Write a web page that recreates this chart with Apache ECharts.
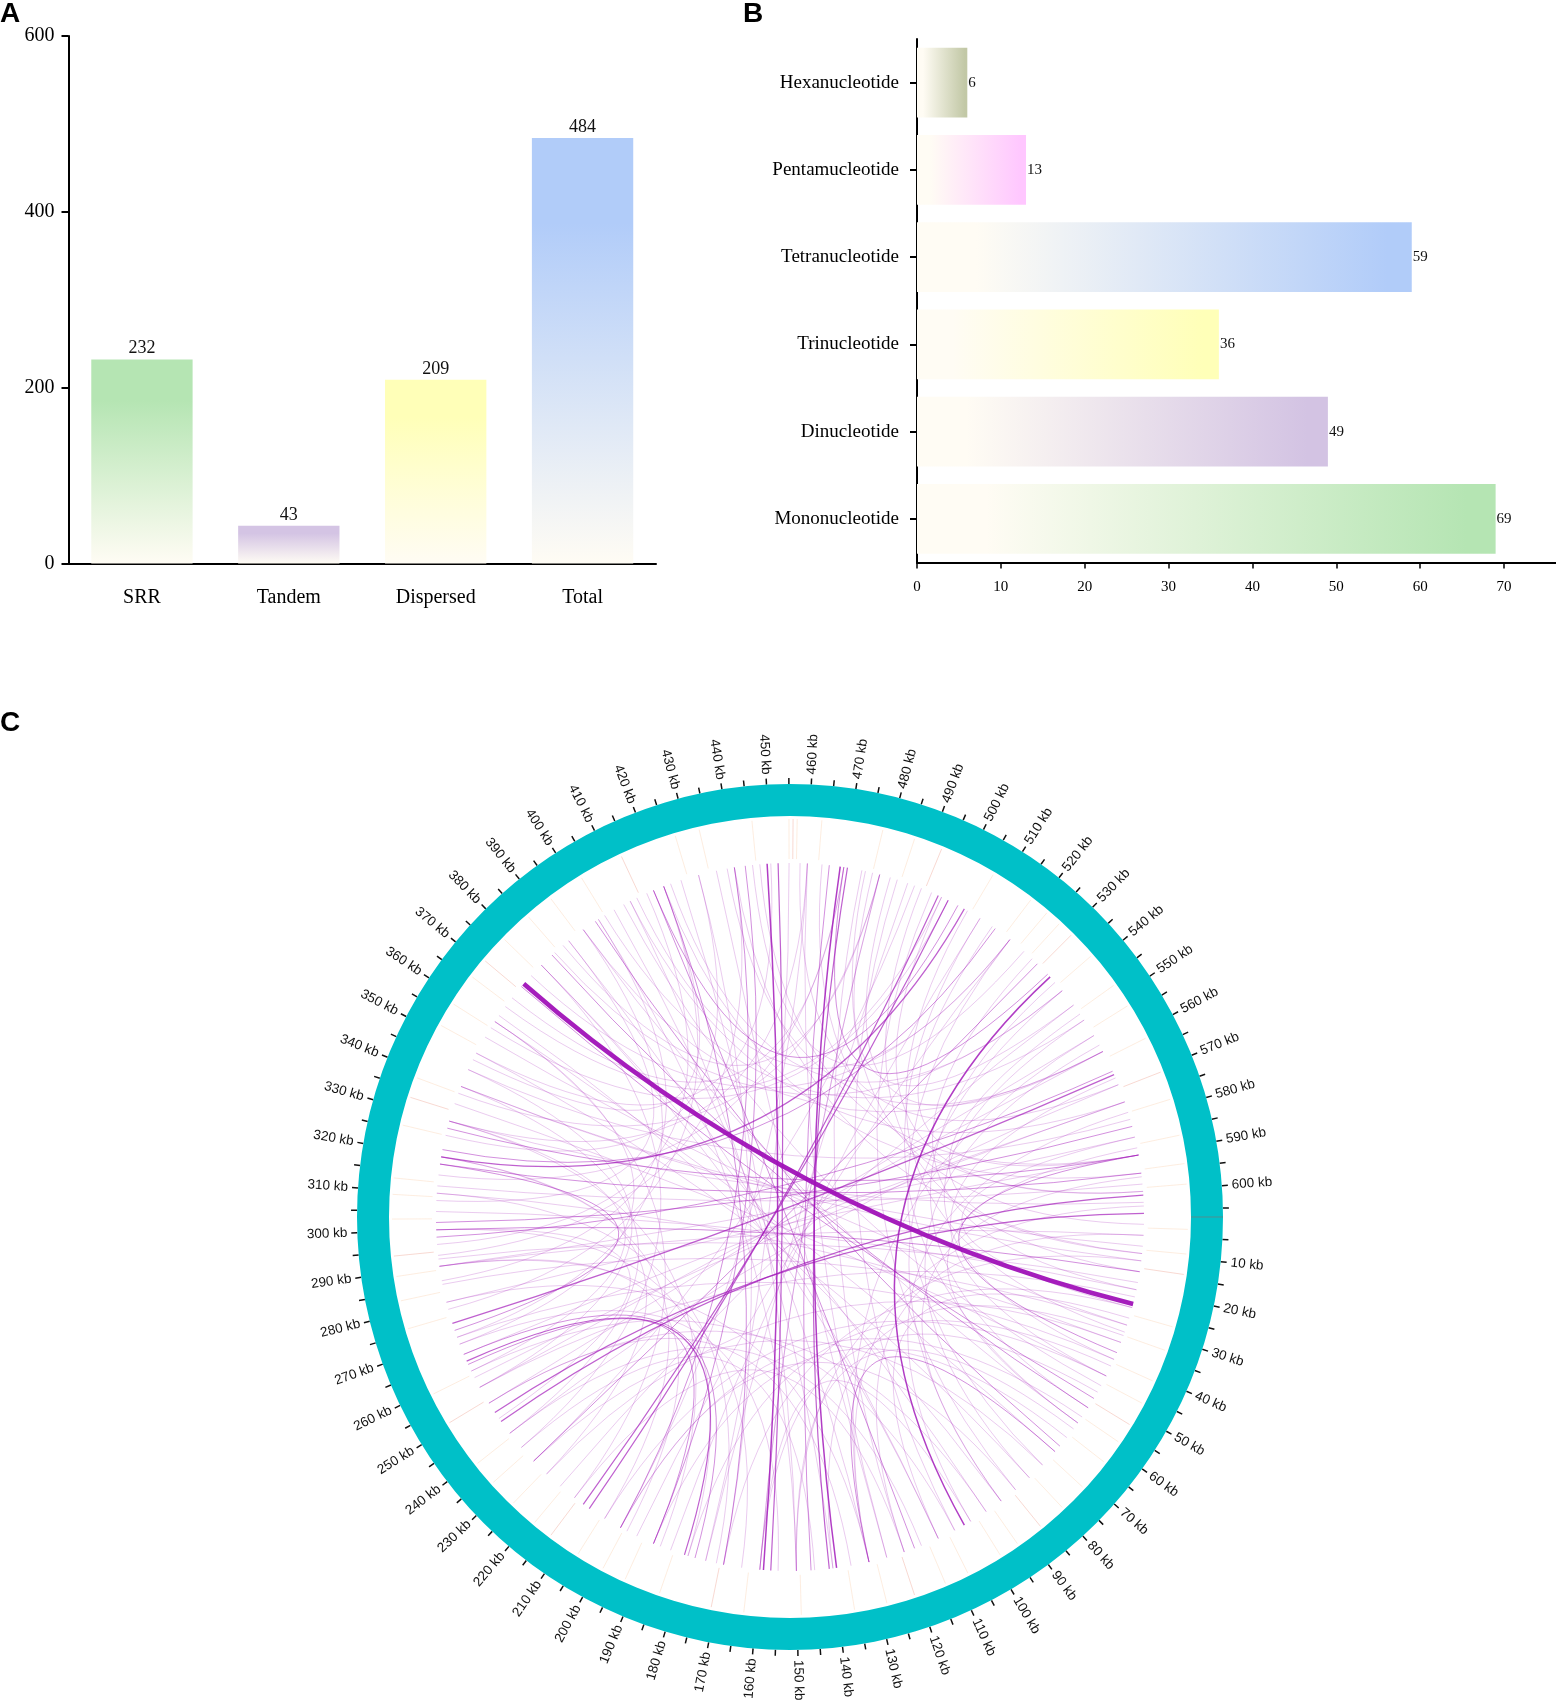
<!DOCTYPE html>
<html>
<head>
<meta charset="utf-8">
<script src="https://cdn.jsdelivr.net/npm/echarts@6/dist/echarts.min.js"></script>
<style>
html, body { margin: 0; padding: 0; background: #fff; }
#chart { width: 1556px; height: 1702px; }
</style>
</head>
<body>
<div id="chart"></div>
<script>
// ---- panel A: repeat counts ----
const repeatTypes = ['SRR', 'Tandem', 'Dispersed', 'Total'];
const repeatCounts = [232, 43, 209, 484];
const repeatColors = ['#b5e5b3', '#d4c4e4', '#ffffb8', '#b1ccf9'];

// ---- panel B: SSR motif types (bottom to top) ----
const ssrTypes = ['Mononucleotide', 'Dinucleotide', 'Trinucleotide', 'Tetranucleotide', 'Pentamucleotide', 'Hexanucleotide'];
const ssrCounts = [69, 49, 36, 59, 13, 6];
const ssrColors = ['#b5e5b3', '#d3c3e3', '#ffffb8', '#b1ccf9', '#ffc7ff', '#c2c8a6'];
const ssrTicks = [0, 10, 20, 30, 40, 50, 60, 70];

// ---- panel C: circos of the genome (kb) ----
const genomeKb = 607;
// [start kb, end kb, strength 1..10]
const links = [
    [373, 24, 10], [274, 567, 3], [535, 102, 4], [601, 244, 3], [606, 247, 3],
    [449, 159, 4], [452, 157, 3], [469, 139, 4], [471, 141, 3], [466, 146, 2],
    [210, 497, 3], [212, 500, 3], [399, 68, 2], [417, 117, 2], [320, 505, 3],
    [322, 515, 2], [263, 181, 3], [265, 178, 2], [582, 302, 2], [443, 190, 2],
    [566, 298, 2], [52, 372, 2], [55, 384, 2], [60, 395, 1], [48, 408, 1],
    [230, 530, 2], [200, 440, 2], [170, 420, 2], [140, 410, 1], [150, 400, 1],
    [590, 328, 2], [595, 318, 2], [15, 300, 2], [30, 285, 1], [40, 270, 1],
    [80, 350, 1], [90, 362, 1], [110, 380, 1], [125, 460, 1], [160, 480, 1],
    [175, 488, 1], [185, 510, 1], [195, 520, 1], [220, 545, 1], [250, 555, 1],
    [258, 575, 1], [280, 590, 1], [290, 5, 1], [305, 20, 1], [310, 35, 1],
    [335, 45, 1], [340, 12, 1], [345, 580, 1], [355, 30, 1], [360, 70, 1],
    [380, 95, 1], [390, 110, 1], [405, 130, 1], [425, 150, 1], [430, 170, 1],
    [435, 125, 1], [455, 175, 1], [460, 200, 1], [475, 120, 1], [480, 160, 1],
    [485, 105, 1], [490, 230, 1], [495, 85, 1], [503, 417, 2], [534, 470, 2],
    [545, 478, 1], [525, 445, 1], [510, 60, 1], [520, 75, 1], [540, 90, 1],
    [550, 40, 1], [555, 130, 1], [560, 255, 1], [570, 240, 1], [575, 265, 1],
    [585, 290, 1], [598, 312, 1], [603, 330, 1], [8, 340, 1], [18, 292, 1],
    [22, 255, 1], [35, 225, 1], [45, 205, 1], [65, 190, 1], [70, 130, 2],
    [100, 160, 1], [120, 215, 1], [145, 235, 1], [155, 268, 1], [180, 300, 1],
    [190, 262, 2], [205, 320, 1], [240, 340, 1], [255, 345, 1], [270, 395, 1],
    [296, 415, 1], [318, 272, 2], [326, 430, 1], [350, 450, 1], [365, 498, 1],
    [385, 540, 1], [395, 560, 1], [410, 575, 1], [420, 595, 1], [440, 10, 1],
    [38, 590, 2], [585, 25, 1],
    [5, 120, 1], [12, 150, 1], [25, 170, 1], [28, 110, 1], [33, 140, 1],
    [42, 180, 1], [50, 160, 1], [58, 200, 1], [62, 150, 1], [75, 230, 1],
    [85, 200, 1], [95, 250, 1], [105, 260, 1], [115, 240, 1], [130, 280, 1],
    [135, 250, 1], [165, 290, 1], [172, 310, 1], [188, 330, 1], [198, 290, 1],
    [215, 360, 1], [225, 320, 1], [235, 380, 1], [245, 300, 1], [260, 330, 1],
    [268, 360, 1], [278, 420, 1], [286, 400, 1], [293, 440, 1], [308, 390, 1],
    [315, 470, 1], [330, 460, 1], [338, 480, 1], [348, 420, 1], [358, 500, 1],
    [368, 470, 1], [376, 520, 1], [388, 480, 1], [402, 550, 1], [412, 520, 1],
    [422, 540, 1], [438, 560, 1], [447, 590, 1], [458, 570, 1], [464, 600, 1],
    [476, 2, 1], [483, 560, 1], [492, 15, 1], [498, 600, 1], [506, 32, 1],
    [514, 590, 1], [528, 20, 1], [537, 55, 1], [548, 10, 1], [558, 80, 1],
    [568, 45, 1], [578, 100, 1], [588, 60, 1], [596, 90, 1], [604, 130, 1]
];
// positions of the faint repeat marks track (kb)
const repeatTrackKb = [3, 9, 14, 27, 33, 41, 47, 53, 58, 64, 72, 79, 86, 93, 98, 107, 113, 121, 128,
    136, 149, 163, 171, 184, 193, 199, 206, 214, 219, 226, 233, 239, 251, 259, 276, 283, 289, 294,
    303, 309, 313, 326, 333, 338, 352, 358, 366, 371, 378, 386, 393, 402, 413, 427, 433, 446, 455,
    456, 457, 463, 478, 486, 493, 507, 518, 523, 527, 531, 538, 547, 553, 562, 571, 578, 587, 594, 599];

const ringTickKb = [];
for (let v = 5; v <= 605; v += 5) ringTickKb.push(v);
const ringLabelKb = [];
for (let v = 10; v <= 600; v += 10) ringLabelKb.push(v);

const serif = "'Times New Roman', 'Liberation Serif', serif";
const sans = "Arial, 'Liberation Sans', sans-serif";

const circleCenter = [790, 1217];
const ringOuter = 433;
const ringInner = 401;
const linkRadius = 354;
const trackInner = 358;
const trackOuter = 398;
const labelRadius = 443;
const ringColor = '#00c0c8';
const linkColor = '#a012b8';

function vGrad(color) {
    return {
        type: 'linear', x: 0, y: 0, x2: 0, y2: 1,
        colorStops: [
            { offset: 0, color: color },
            { offset: 0.2, color: color },
            { offset: 1, color: '#fffcf4' }
        ]
    };
}

function hGrad(color) {
    return {
        type: 'linear', x: 0, y: 0, x2: 1, y2: 0,
        colorStops: [
            { offset: 0, color: '#fffcf4' },
            { offset: 0.12, color: '#fffcf4' },
            { offset: 0.95, color: color },
            { offset: 1, color: color }
        ]
    };
}

function linkWidth(s) {
    return s <= 4 ? 0.3 + 0.3 * s : 0.3 + 0.42 * s;
}

function linkOpacity(s) {
    return Math.min(0.95, 0.22 + 0.15 * s);
}

const blackLine = { color: '#000', width: 2 };

function renderRing(params, api) {
    const c = api.coord([0, 0]);
    const pOut = api.coord([ringOuter, 0]);
    const pIn = api.coord([ringInner, 0]);
    const rOut = Math.hypot(pOut[0] - c[0], pOut[1] - c[1]);
    const rIn = Math.hypot(pIn[0] - c[0], pIn[1] - c[1]);
    return {
        type: 'group',
        children: [
            {
                type: 'ring',
                shape: { cx: c[0], cy: c[1], r: rOut, r0: rIn },
                style: { fill: ringColor }
            },
            {
                type: 'line',
                shape: { x1: pIn[0], y1: pIn[1], x2: pOut[0], y2: pOut[1] },
                style: { stroke: '#4f8f90', lineWidth: 1 }
            }
        ]
    };
}

function renderTrack(params, api) {
    const kb = api.value(1);
    const a = api.coord([trackInner, kb]);
    const b = api.coord([trackOuter, kb]);
    const warm = params.dataIndex % 5 === 2;
    return {
        type: 'line',
        shape: { x1: a[0], y1: a[1], x2: b[0], y2: b[1] },
        style: { stroke: warm ? '#e8806a' : '#f6b883', lineWidth: 1, opacity: warm ? 0.3 : 0.25 }
    };
}

function renderLink(params, api) {
    const s = api.value(2);
    const p0 = api.coord([linkRadius, api.value(0)]);
    const p1 = api.coord([linkRadius, api.value(1)]);
    const c = api.coord([0, 0]);
    return {
        type: 'bezierCurve',
        shape: { x1: p0[0], y1: p0[1], x2: p1[0], y2: p1[1], cpx1: c[0], cpy1: c[1] },
        style: { stroke: linkColor, fill: 'none', lineWidth: linkWidth(s), opacity: linkOpacity(s) }
    };
}

function renderRingLabel(params, api) {
    const kb = api.value(1);
    const p = api.coord([labelRadius, kb]);
    const c = api.coord([0, 0]);
    const theta = Math.atan2(p[1] - c[1], p[0] - c[0]);
    const right = Math.cos(theta) >= 0;
    return {
        type: 'text',
        x: p[0],
        y: p[1],
        rotation: right ? -theta : Math.PI - theta,
        style: {
            text: kb + ' kb',
            align: right ? 'left' : 'right',
            verticalAlign: 'middle',
            fontSize: 13.5,
            fontFamily: sans,
            fill: '#111'
        }
    };
}

const chart = echarts.init(document.getElementById('chart'));

chart.setOption({
    animation: false,
    backgroundColor: '#fff',
    graphic: [
        { type: 'text', left: 0, top: 0, style: { text: 'A', fontSize: 28, fontWeight: 'bold', fontFamily: sans, fill: '#000' } },
        { type: 'text', left: 743, top: 0, style: { text: 'B', fontSize: 28, fontWeight: 'bold', fontFamily: sans, fill: '#000' } },
        { type: 'text', left: 0, top: 709, style: { text: 'C', fontSize: 28, fontWeight: 'bold', fontFamily: sans, fill: '#000' } }
    ],
    grid: [
        { left: 68.5, top: 36, width: 587.5, height: 527.6 },
        { left: 917, top: 39, width: 639, height: 523.5 }
    ],
    xAxis: [
        {
            gridIndex: 0,
            type: 'category',
            data: repeatTypes,
            axisLine: { lineStyle: blackLine },
            axisTick: { alignWithLabel: true, length: 8, lineStyle: blackLine },
            axisLabel: { color: '#000', fontFamily: serif, fontSize: 20, margin: 24 }
        },
        {
            gridIndex: 1,
            type: 'value',
            min: 0,
            max: 76.2,
            interval: 10,
            axisLine: { show: true, lineStyle: blackLine },
            axisTick: { show: true, customValues: ssrTicks, length: 6, lineStyle: { color: '#000', width: 1.5 } },
            axisLabel: { customValues: ssrTicks, color: '#000', fontFamily: serif, fontSize: 15, margin: 17 },
            splitLine: { show: false }
        }
    ],
    yAxis: [
        {
            gridIndex: 0,
            type: 'value',
            min: 0,
            max: 600,
            interval: 200,
            axisLine: { show: true, lineStyle: blackLine },
            axisTick: { show: true, length: 7, lineStyle: blackLine },
            axisLabel: { color: '#000', fontFamily: serif, fontSize: 20, margin: 14 },
            splitLine: { show: false }
        },
        {
            gridIndex: 1,
            type: 'category',
            data: ssrTypes,
            axisLine: { show: true, lineStyle: blackLine },
            axisTick: { show: true, alignWithLabel: true, length: 7, lineStyle: blackLine },
            axisLabel: { color: '#000', fontFamily: serif, fontSize: 19, margin: 18 }
        }
    ],
    polar: { center: circleCenter, radius: ringOuter },
    angleAxis: {
        type: 'value',
        min: 0,
        max: genomeKb,
        interval: 5,
        startAngle: 0,
        clockwise: true,
        axisLine: { show: false },
        axisTick: { show: true, customValues: ringTickKb, length: 6, lineStyle: { color: '#111', width: 1.5 } },
        axisLabel: { show: false },
        splitLine: { show: false }
    },
    radiusAxis: {
        type: 'value',
        min: 0,
        max: ringOuter,
        axisLine: { show: false },
        axisTick: { show: false },
        axisLabel: { show: false },
        splitLine: { show: false }
    },
    series: [
        {
            type: 'bar',
            xAxisIndex: 0,
            yAxisIndex: 0,
            barWidth: '69%',
            data: repeatCounts.map((v, i) => ({ value: v, itemStyle: { color: vGrad(repeatColors[i]) } })),
            label: { show: true, position: 'top', distance: 2, fontFamily: serif, fontSize: 18, color: '#111' }
        },
        {
            type: 'bar',
            xAxisIndex: 1,
            yAxisIndex: 1,
            barWidth: '80%',
            data: ssrCounts.map((v, i) => ({ value: v, itemStyle: { color: hGrad(ssrColors[i]) } })),
            label: { show: true, position: 'right', distance: 1, fontFamily: serif, fontSize: 15, color: '#111' }
        },
        {
            type: 'custom',
            coordinateSystem: 'polar',
            silent: true,
            data: [[ringOuter, 0]],
            renderItem: renderRing
        },
        {
            type: 'custom',
            coordinateSystem: 'polar',
            silent: true,
            data: repeatTrackKb.map(k => [trackOuter, k]),
            renderItem: renderTrack
        },
        {
            type: 'custom',
            coordinateSystem: 'polar',
            silent: true,
            data: links,
            renderItem: renderLink
        },
        {
            type: 'custom',
            coordinateSystem: 'polar',
            silent: true,
            data: ringLabelKb.map(k => [labelRadius, k]),
            renderItem: renderRingLabel
        }
    ]
});
</script>
</body>
</html>
